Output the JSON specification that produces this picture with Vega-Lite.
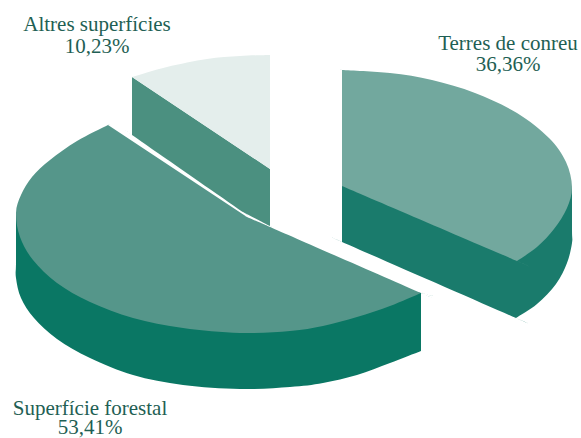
{"$schema":"https://vega.github.io/schema/vega-lite/v6.json","width":581,"height":438,"padding":0,"autosize":"none","background":"white","view":{"stroke":null},
"datasets":{"shapes":[
{"part":"Altres costat","o":1,"x":132,"y":77},{"part":"Altres costat","o":1,"x":132,"y":77},{"part":"Altres costat","o":2,"x":132,"y":135},{"part":"Altres costat","o":2,"x":132,"y":135},{"part":"Altres costat","o":2,"x":132,"y":135},{"part":"Altres costat","o":3,"x":243,"y":212},{"part":"Altres costat","o":3,"x":243,"y":212},{"part":"Altres costat","o":3,"x":243,"y":212},{"part":"Altres costat","o":5,"x":270,"y":226},{"part":"Altres costat","o":5,"x":270,"y":226},{"part":"Altres costat","o":5,"x":270,"y":226},{"part":"Altres costat","o":6,"x":270,"y":169},
{"part":"Altres","o":1,"x":132,"y":77},{"part":"Altres","o":1,"x":132,"y":77},{"part":"Altres","o":2,"x":167,"y":67},{"part":"Altres","o":3,"x":207,"y":59},{"part":"Altres","o":4,"x":240,"y":56},{"part":"Altres","o":5,"x":270,"y":55},{"part":"Altres","o":5,"x":270,"y":55},{"part":"Altres","o":5,"x":270,"y":55},{"part":"Altres","o":6,"x":270,"y":169},
{"part":"Terres costat","o":1,"x":342,"y":186},{"part":"Terres costat","o":1,"x":342,"y":186},{"part":"Terres costat","o":2,"x":342,"y":242},{"part":"Terres costat","o":2,"x":342,"y":242},{"part":"Terres costat","o":2,"x":342,"y":242},{"part":"Terres costat","o":3,"x":516,"y":318},{"part":"Terres costat","o":3,"x":516,"y":318},{"part":"Terres costat","o":3,"x":516,"y":318},{"part":"Terres costat","o":4,"x":537,"y":304},{"part":"Terres costat","o":5,"x":556,"y":284},{"part":"Terres costat","o":6,"x":567,"y":263},{"part":"Terres costat","o":7,"x":572,"y":243},{"part":"Terres costat","o":8,"x":572,"y":230},{"part":"Terres costat","o":9,"x":572,"y":187},
{"part":"Terres","o":1,"x":342,"y":70},{"part":"Terres","o":1,"x":342,"y":70},{"part":"Terres","o":2,"x":390,"y":73},{"part":"Terres","o":3,"x":432,"y":80},{"part":"Terres","o":4,"x":475,"y":93},{"part":"Terres","o":5,"x":517,"y":113},{"part":"Terres","o":6,"x":549,"y":138},{"part":"Terres","o":7,"x":566,"y":162},{"part":"Terres","o":8,"x":572,"y":187},{"part":"Terres","o":9,"x":567,"y":208},{"part":"Terres","o":10,"x":554,"y":229},{"part":"Terres","o":11,"x":537,"y":247},{"part":"Terres","o":12,"x":517,"y":261},{"part":"Terres","o":12,"x":517,"y":261},{"part":"Terres","o":12,"x":517,"y":261},{"part":"Terres","o":13,"x":342,"y":186},
{"part":"Forestal costat","o":1,"x":16,"y":213},{"part":"Forestal costat","o":1,"x":16,"y":213},{"part":"Forestal costat","o":2,"x":16,"y":262},{"part":"Forestal costat","o":3,"x":16,"y":278},{"part":"Forestal costat","o":4,"x":21,"y":298},{"part":"Forestal costat","o":5,"x":34,"y":318},{"part":"Forestal costat","o":6,"x":57,"y":339},{"part":"Forestal costat","o":7,"x":90,"y":358},{"part":"Forestal costat","o":8,"x":133,"y":375},{"part":"Forestal costat","o":9,"x":183,"y":385},{"part":"Forestal costat","o":10,"x":240,"y":389},{"part":"Forestal costat","o":11,"x":290,"y":387},{"part":"Forestal costat","o":12,"x":323,"y":383},{"part":"Forestal costat","o":13,"x":357,"y":375},{"part":"Forestal costat","o":14,"x":390,"y":363},{"part":"Forestal costat","o":15,"x":421,"y":351},{"part":"Forestal costat","o":15,"x":421,"y":351},{"part":"Forestal costat","o":15,"x":421,"y":351},{"part":"Forestal costat","o":16,"x":421,"y":293},{"part":"Forestal costat","o":16,"x":421,"y":293},{"part":"Forestal costat","o":16,"x":421,"y":293},{"part":"Forestal costat","o":17,"x":240,"y":250},
{"part":"Forestal","o":1,"x":108,"y":125},{"part":"Forestal","o":1,"x":108,"y":125},{"part":"Forestal","o":2,"x":77,"y":141},{"part":"Forestal","o":3,"x":50,"y":160},{"part":"Forestal","o":4,"x":32,"y":177},{"part":"Forestal","o":5,"x":21,"y":195},{"part":"Forestal","o":6,"x":16,"y":213},{"part":"Forestal","o":7,"x":20,"y":237},{"part":"Forestal","o":8,"x":33,"y":260},{"part":"Forestal","o":9,"x":57,"y":283},{"part":"Forestal","o":10,"x":90,"y":302},{"part":"Forestal","o":11,"x":133,"y":318},{"part":"Forestal","o":12,"x":183,"y":328},{"part":"Forestal","o":13,"x":240,"y":333},{"part":"Forestal","o":14,"x":290,"y":331},{"part":"Forestal","o":15,"x":323,"y":326},{"part":"Forestal","o":16,"x":357,"y":317},{"part":"Forestal","o":17,"x":390,"y":306},{"part":"Forestal","o":18,"x":421,"y":293},{"part":"Forestal","o":18,"x":421,"y":293},{"part":"Forestal","o":18,"x":421,"y":293},{"part":"Forestal","o":19,"x":270,"y":227},{"part":"Forestal","o":19,"x":270,"y":227},{"part":"Forestal","o":19,"x":270,"y":227},{"part":"Forestal","o":20,"x":247,"y":217},{"part":"Forestal","o":20,"x":247,"y":217},{"part":"Forestal","o":20,"x":247,"y":217}
],
"labels":[
{"t":"Altres superfícies","x":97,"y":31},{"t":"10,23%","x":97,"y":53},
{"t":"Terres de conreu","x":508,"y":50},{"t":"36,36%","x":508,"y":71},
{"t":"Superfície forestal","x":90,"y":415},{"t":"53,41%","x":90,"y":434}
]},
"layer":[
{"data":{"name":"shapes"},"mark":{"type":"line","filled":true,"strokeWidth":0,"interpolate":"cardinal","tension":0},
"encoding":{
"x":{"field":"x","type":"quantitative","scale":{"domain":[0,581],"nice":false,"zero":false},"axis":null},
"y":{"field":"y","type":"quantitative","scale":{"domain":[438,0],"nice":false,"zero":false},"axis":null},
"order":{"field":"o","type":"quantitative"},
"color":{"field":"part","type":"nominal","legend":null,"scale":{
"domain":["Altres costat","Altres","Terres costat","Terres","Forestal costat","Forestal"],
"range":["#4b9080","#e4eeec","#1a7b6c","#72a89e","#0a7764","#55968a"]}}}},
{"data":{"name":"labels"},"mark":{"type":"text","font":"Liberation Serif","fontSize":21,"color":"#1f5f54","align":"center","baseline":"alphabetic"},
"encoding":{
"x":{"field":"x","type":"quantitative","scale":{"domain":[0,581],"nice":false,"zero":false},"axis":null},
"y":{"field":"y","type":"quantitative","scale":{"domain":[438,0],"nice":false,"zero":false},"axis":null},
"text":{"field":"t"}}}
]}
